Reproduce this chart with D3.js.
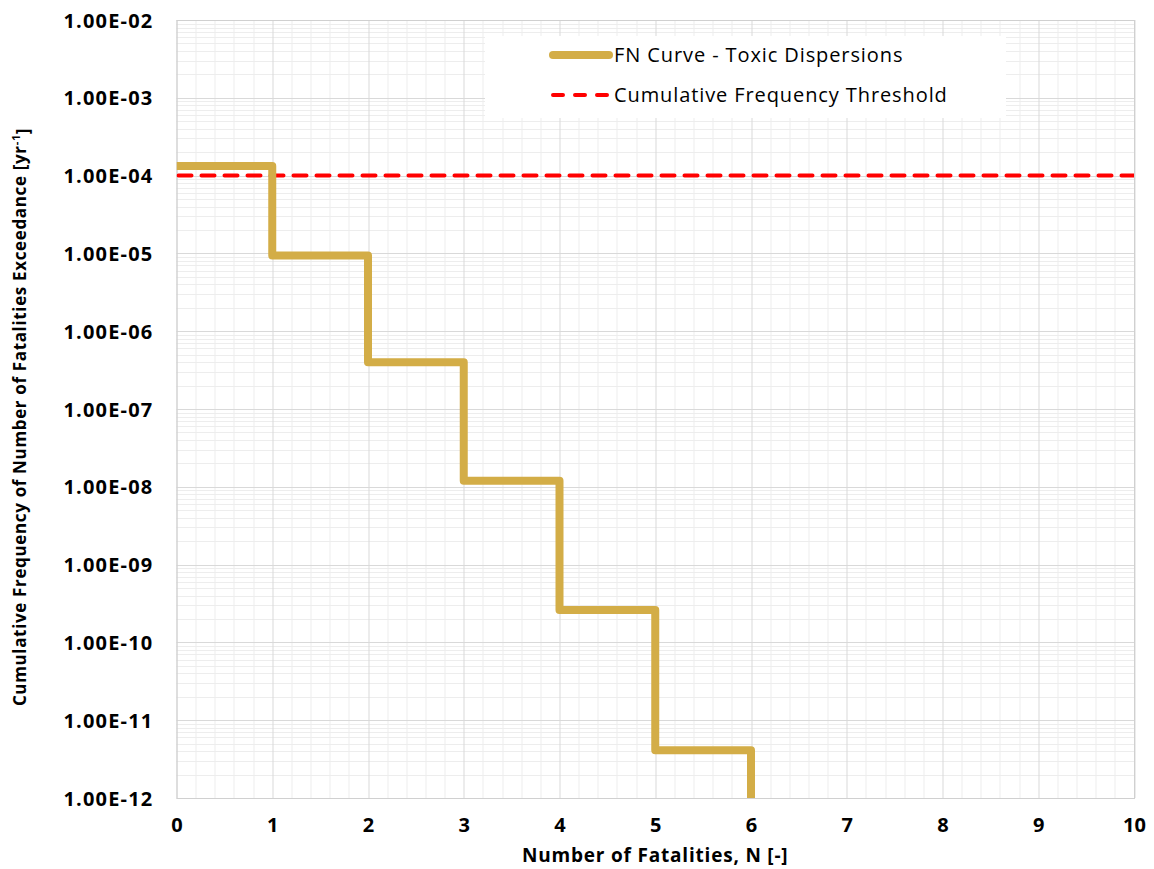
<!DOCTYPE html>
<html>
<head>
<meta charset="utf-8">
<script src="https://cdn.jsdelivr.net/npm/d3@7"></script>
<style>
  body { margin: 0; background: #fff; }
  svg { display: block; }
  text { font-family: "Open Sans", sans-serif; fill: #000; }
</style>
</head>
<body>
<svg id="chart" width="1154" height="869"></svg>
<script>
// FN curve, number of fatalities vs cumulative frequency
const fatalities = [0, 1, 2, 3, 4, 5, 6];
const frequency = [1.33e-4, 9.4e-6, 4.0e-7, 1.2e-8, 2.6e-10, 4.1e-12, 1e-12];
const threshold = 1e-4;

const xTicks = [0, 1, 2, 3, 4, 5, 6, 7, 8, 9, 10];
const yTicks = [1e-2, 1e-3, 1e-4, 1e-5, 1e-6, 1e-7, 1e-8, 1e-9, 1e-10, 1e-11, 1e-12];

const seriesNames = ["FN Curve - Toxic Dispersions", "Cumulative Frequency Threshold"];

const margin = { top: 20, right: 20, bottom: 71, left: 176.5 };
const width = 1154 - margin.left - margin.right;
const height = 869 - margin.top - margin.bottom;

const svg = d3.select("#chart");
const g = svg.append("g").attr("transform", `translate(${margin.left},${margin.top})`);

const x = d3.scaleLinear().domain([0, 10]).range([0, width]);
const y = d3.scaleLog().domain([1e-12, 1e-2]).range([height, 0]);

// minor grid
const minorX = d3.range(0, 10.001, 0.2).filter(v => Math.abs(v - Math.round(v)) > 1e-6);
g.append("g").selectAll("line").data(minorX).join("line")
  .attr("x1", d => Math.round(x(d)) + 0.5).attr("x2", d => Math.round(x(d)) + 0.5)
  .attr("y1", 0).attr("y2", height)
  .attr("stroke", "#ededed").attr("stroke-width", 1);

const minorY = [];
yTicks.slice(1).forEach(t => { for (let k = 2; k <= 9; k++) minorY.push(t * k); });
g.append("g").selectAll("line").data(minorY).join("line")
  .attr("x1", 0).attr("x2", width)
  .attr("y1", d => Math.round(y(d)) + 0.5).attr("y2", d => Math.round(y(d)) + 0.5)
  .attr("stroke", "#ededed").attr("stroke-width", 1);

// major grid
g.append("g").selectAll("line").data(xTicks).join("line")
  .attr("x1", d => Math.round(x(d)) + 0.5).attr("x2", d => Math.round(x(d)) + 0.5)
  .attr("y1", 0).attr("y2", height)
  .attr("stroke", "#d9d9d9").attr("stroke-width", 1);
g.append("g").selectAll("line").data(yTicks).join("line")
  .attr("x1", 0).attr("x2", width)
  .attr("y1", d => Math.round(y(d)) + 0.5).attr("y2", d => Math.round(y(d)) + 0.5)
  .attr("stroke", "#d9d9d9").attr("stroke-width", 1);

// axes (labels only, Excel style)
const xAxis = g.append("g").attr("transform", `translate(0,${height})`)
  .call(d3.axisBottom(x).tickValues(xTicks).tickFormat(d3.format("d")).tickSize(0).tickPadding(20));
const yAxis = g.append("g")
  .call(d3.axisLeft(y).tickValues(yTicks).tickSize(0).tickPadding(23)
    .tickFormat(d => d.toExponential(2).toUpperCase().replace(/E([+-])(\d)$/, "E$10$2")));
[xAxis, yAxis].forEach(a => {
  a.select(".domain").remove();
  a.selectAll("text").attr("font-family", "Open Sans").attr("font-size", 20)
    .attr("font-weight", "bold").attr("fill", "#000");
});
yAxis.selectAll("text").attr("dy", "0.35em").attr("letter-spacing", 1.2);

// plot border
g.append("rect").attr("x", 0.5).attr("y", 0.5).attr("width", width).attr("height", height)
  .attr("fill", "none").attr("stroke", "#d0d0d0");

// legend box
const legend = svg.append("g").attr("transform", "translate(485,36)");
legend.append("rect").attr("width", 521).attr("height", 82).attr("fill", "#fff");

// clip
svg.append("defs").append("clipPath").attr("id", "clip")
  .append("rect").attr("width", width).attr("height", height);
const plot = g.append("g").attr("clip-path", "url(#clip)");

plot.append("line")
  .attr("x1", x(0) + 2).attr("x2", width).attr("y1", y(threshold)).attr("y2", y(threshold))
  .attr("stroke", "#ff0000").attr("stroke-width", 4)
  .attr("stroke-dasharray", "13,10").attr("stroke-linecap", "round");

const line = d3.line().x((d, i) => x(fatalities[i])).y(d => y(d)).curve(d3.curveStepAfter);
plot.append("path").datum(frequency)
  .attr("d", line)
  .attr("fill", "none").attr("stroke", "#d3ad47").attr("stroke-width", 8)
  .attr("stroke-linejoin", "round").attr("stroke-linecap", "butt");

// legend entries
const rows = legend.selectAll("g.row").data(seriesNames).join("g").attr("class", "row")
  .attr("transform", (d, i) => `translate(0,${19 + i * 40})`);
rows.append("line").attr("x1", 68).attr("x2", 124).attr("y1", 0).attr("y2", 0)
  .attr("stroke", (d, i) => i === 0 ? "#d3ad47" : "#ff0000")
  .attr("stroke-width", (d, i) => i === 0 ? 8 : 4)
  .attr("stroke-linecap", "round")
  .attr("stroke-dasharray", (d, i) => i === 0 ? null : "10,12");
rows.append("text").attr("x", 129).attr("dy", "0.35em")
  .attr("font-size", 20).attr("letter-spacing", 0.9).text(d => d);

// axis titles
svg.append("text").attr("x", margin.left + width / 2).attr("y", 855)
  .attr("dy", "0.35em").attr("text-anchor", "middle")
  .attr("font-size", 19).attr("font-weight", "bold").attr("letter-spacing", 0.8)
  .text("Number of Fatalities, N [-]");

const yt = svg.append("text")
  .attr("transform", `translate(20,${margin.top + height / 2 + 8}) rotate(-90)`)
  .attr("dy", "0.35em").attr("text-anchor", "middle")
  .attr("font-size", 17).attr("font-weight", "bold").attr("letter-spacing", 0.65);
yt.append("tspan").text("Cumulative Frequency of Number of Fatalities Exceedance [yr");
yt.append("tspan").attr("dy", "-0.5em").attr("font-size", 11).text("-1");
yt.append("tspan").attr("dy", "0.5em").text("]");
</script>
</body>
</html>
